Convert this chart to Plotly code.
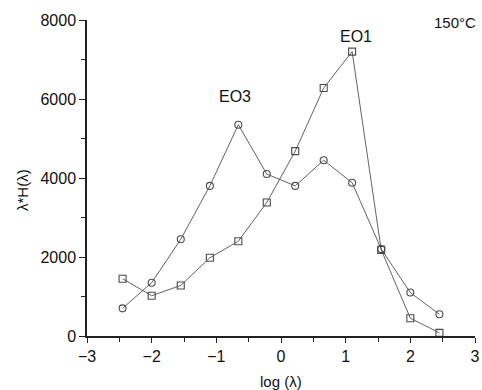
import plotly.graph_objects as go

log_lambda = [-2.45, -2.0, -1.55, -1.1, -0.66, -0.22, 0.22, 0.66, 1.1, 1.55, 2.0, 2.45]
eo3_values = [700, 1350, 2450, 3800, 5350, 4100, 3800, 4450, 3880, 2200, 1100, 550]
eo1_values = [1450, 1020, 1280, 1980, 2400, 3380, 4680, 6280, 7200, 2180, 450, 80]

font_family = "Liberation Sans, Arial, sans-serif"
W, H = 482, 390
L, R, T, B = 87, 7, 20, 54
pw, ph = W - L - R, H - T - B

def px_to_paper_x(px):
    return (px - L) / pw

def px_to_paper_y(py):
    return (H - B - py) / ph

fig = go.Figure()
fig.add_trace(go.Scatter(
    x=log_lambda, y=eo3_values, mode="lines+markers", name="EO3",
    line=dict(color="#3a3a3a", width=0.8),
    marker=dict(symbol="circle-open", size=7, color="#4a4a4a", line=dict(width=1.1)),
))
fig.add_trace(go.Scatter(
    x=log_lambda, y=eo1_values, mode="lines+markers", name="EO1",
    line=dict(color="#3a3a3a", width=0.8),
    marker=dict(symbol="square-open", size=7, color="#4a4a4a", line=dict(width=1.1)),
))

def label(text, px, py, size=16, angle=0):
    fig.add_annotation(x=px_to_paper_x(px), y=px_to_paper_y(py), xref="paper", yref="paper",
                       text=text, showarrow=False, xanchor="center", yanchor="middle",
                       textangle=angle,
                       font=dict(size=size, color="#111111", family=font_family))

label("EO3", 235, 97)
label("EO1", 356, 36)
label("150°C", 455, 22, size=15)
label("log (λ)", 281, 381, size=15)
label("λ*H(λ)", 22, 190, size=15, angle=-90)

fig.update_layout(
    width=W, height=H,
    margin=dict(l=L, r=R, t=T, b=B, autoexpand=False),
    paper_bgcolor="white", plot_bgcolor="white",
    showlegend=False,
    font=dict(family=font_family, size=16, color="#111111"),
)
fig.update_xaxes(
    range=[-3, 3], dtick=1, tick0=-3, showgrid=False, zeroline=False, automargin=False,
    showline=True, linecolor="#222222", linewidth=1.5,
    ticks="outside", ticklen=5, tickwidth=1.2, tickcolor="#222222",
    minor=dict(dtick=0.5, ticks="outside", ticklen=4, tickwidth=1.2, tickcolor="#222222", showgrid=False),
    tickfont=dict(size=16),
)
fig.update_yaxes(
    range=[0, 8000], dtick=2000, showgrid=False, zeroline=False, automargin=False,
    showline=True, linecolor="#222222", linewidth=1.5,
    ticks="outside", ticklen=6, tickwidth=1.2, tickcolor="#222222",
    minor=dict(dtick=1000, ticks="outside", ticklen=4, tickwidth=1.2, tickcolor="#222222", showgrid=False),
    tickfont=dict(size=16),
)

fig.write_html(
    "out.html",
    config={"displayModeBar": False},
    post_script="document.body.style.margin='0';document.body.style.overflow='hidden';",
)
